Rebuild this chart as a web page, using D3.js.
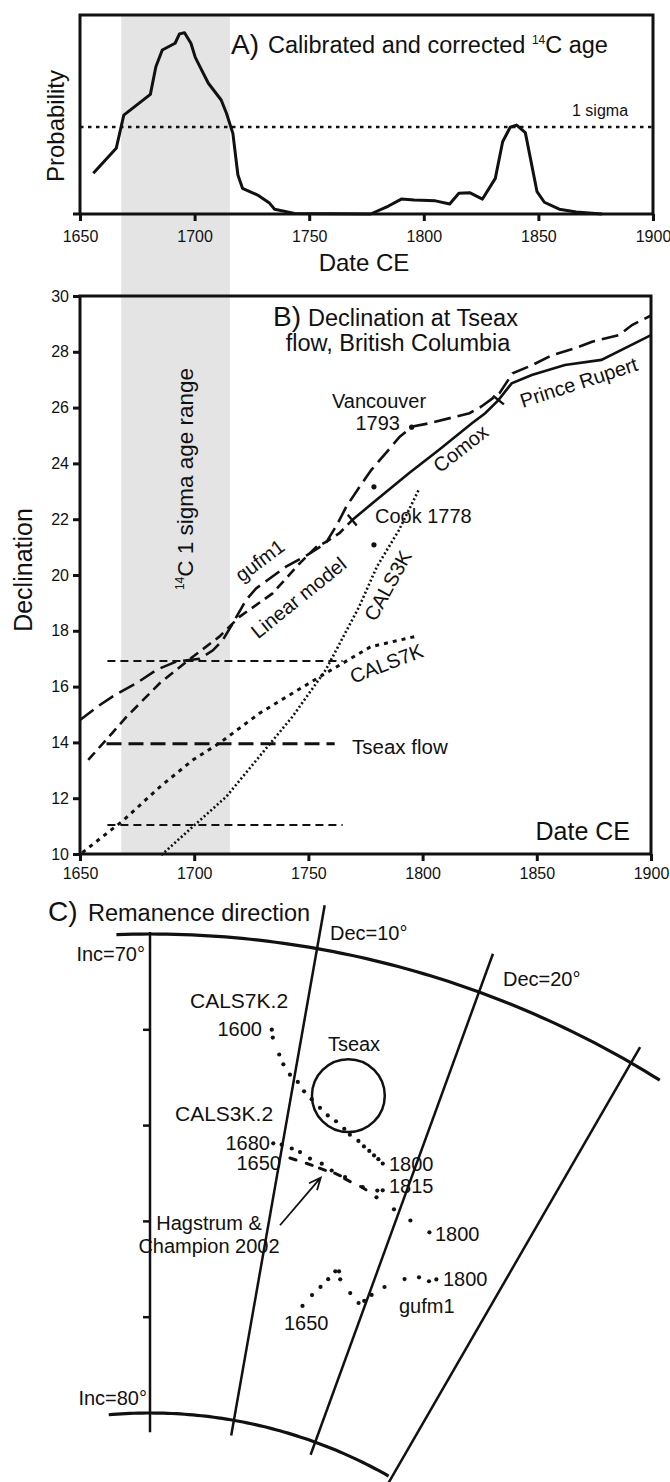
<!DOCTYPE html>
<html>
<head>
<meta charset="utf-8">
<script src="https://cdn.jsdelivr.net/npm/d3@7/dist/d3.min.js"></script>
<style>
  body { margin: 0; background: #fff; }
  svg { display: block; }
  text { font-family: "Liberation Sans", Arial, Helvetica, sans-serif; fill: #111; }
</style>
</head>
<body>
<svg id="fig" width="670" height="1482"></svg>
<script>
// ---------- data ----------

const yearTicks = [1650, 1700, 1750, 1800, 1850, 1900];
const decTicks = [10, 12, 14, 16, 18, 20, 22, 24, 26, 28, 30];

// 14C 1 sigma age range (grey band)
const sigmaRange = [1668, 1715.4];

// A) calibrated and corrected 14C age, relative probability
const probYear = [1655.8, 1665.8, 1669.1, 1680.7, 1683.1, 1685.9, 1691.5, 1693.4, 1695.6, 1698.4,
  1700.3, 1702.7, 1706.0, 1711.6, 1713.9, 1716.7, 1718.9, 1720.9, 1727.5, 1732.5,
  1734.9, 1743.6, 1776.8, 1784.6, 1790.2, 1795.8, 1805.1, 1811.3, 1815.3, 1820.0,
  1825.6, 1831.2, 1834.4, 1837.7, 1840.5, 1844.3, 1849.4, 1852.6, 1859.1, 1866.5, 1877.7];
const probValue = [0.205, 0.330, 0.497, 0.601, 0.740, 0.824, 0.858, 0.905, 0.911, 0.858,
  0.787, 0.732, 0.657, 0.573, 0.506, 0.405, 0.196, 0.129, 0.095, 0.057,
  0.024, 0.003, 0, 0.040, 0.075, 0.070, 0.066, 0.050, 0.104, 0.107,
  0.075, 0.179, 0.363, 0.436, 0.447, 0.409, 0.112, 0.059, 0.024, 0.010, 0];
const oneSigma = 0.437;

// B) declination at Tseax
const obsYear = [1769.2, 1778, 1794, 1807.1, 1821.6, 1827.4, 1833.2, 1839, 1847.8, 1862.3, 1878.3, 1900];
const obsDec = [21.97, 22.57, 23.65, 24.48, 25.44, 25.80, 26.27, 26.87, 27.17, 27.53, 27.71, 28.6];
const obsBreaks = [1769.2, 1833.2];

const gufmYear = [1650, 1658.7, 1665.3, 1674.7, 1683.5, 1692.2, 1702.4, 1708.2, 1712.5, 1716.9,
  1722.7, 1727.1, 1740.2, 1749.6, 1757.6, 1762.5, 1766.6, 1772.4, 1777.5, 1786.3,
  1790, 1795.7, 1803, 1820.5, 1825.6, 1833.6, 1839.4, 1848.2, 1856.7, 1867.2,
  1874.2, 1886, 1891.7, 1900];
const gufmDec = [14.8, 15.34, 15.7, 16.12, 16.6, 16.9, 17.0, 17.3, 17.67, 18.27,
  19.1, 19.52, 20.3, 20.72, 21.14, 21.8, 22.45, 23.16, 23.76, 24.6,
  24.96, 25.32, 25.44, 25.8, 26.03, 26.51, 27.23, 27.53, 27.88, 28.14,
  28.36, 28.6, 28.96, 29.3];

const linYear = [1653.6, 1670.4, 1684.9, 1699.4, 1711, 1719.8, 1734.3, 1746.2, 1753.4, 1758, 1763.6, 1769.2];
const linDec = [13.37, 14.92, 16.12, 17.07, 17.79, 18.5, 19.34, 20.42, 21.0, 21.2, 21.5, 21.97];

const cals7kYear = [1651, 1668.9, 1684.9, 1699.4, 1711, 1728.5, 1743, 1757.6, 1777.3, 1797];
const cals7kDec = [10.05, 11.2, 12.4, 13.37, 13.97, 15.04, 15.76, 16.48, 17.43, 17.8];

const cals3kYear = [1685.6, 1699.4, 1714, 1728.5, 1743, 1757.6, 1772.2, 1780, 1789.6, 1798.3];
const cals3kDec = [9.96, 10.98, 12.05, 13.49, 14.92, 16.6, 18.86, 20.3, 21.6, 23.05];

// Tseax flow mean and +/- range
const tseaxDec = 13.95;
const tseaxBand = [11.04, 16.92];
const tseaxSpan = [1661.6, 1761.5];
const bandSpan = [1662, 1765];

// historical measurements
const vancouver = [1795.2, 25.3];
const cookYear = [1778.7, 1778.7];
const cookDec = [23.16, 21.08];

// C) remanence direction (dec, inc)
const netDecs = [0, 10, 20, 30];
const netIncFrom = [69.96, 69.08, 69.15, 69.62];
const netIncTo = [80.4, 80.32, 80.28, 80.6];
const incTicks = [72, 74, 76, 78];

const c7Dec = [8.00, 8.14, 8.73, 9.11, 9.67, 10.29, 10.84, 11.47, 12.17, 12.83,
  13.50, 14.21, 14.71, 15.43, 15.93, 16.40, 16.83, 17.22, 17.63];
const c7Inc = [71.82, 71.98, 72.31, 72.50, 72.69, 72.81, 72.98, 73.11, 73.25, 73.37,
  73.45, 73.56, 73.65, 73.73, 73.81, 73.87, 73.93, 73.98, 74.04];

const c3Dec = [9.30, 9.94, 10.74, 11.40, 12.24, 13.20, 14.06, 15.18, 16.70, 17.86, 18.25];
const c3Inc = [74.16, 74.16, 74.20, 74.24, 74.33, 74.38, 74.47, 74.53, 74.63, 74.61, 74.57];

const hcDec = [10.98, 12.28, 13.35, 14.57, 15.42, 16.77, 17.96, 19.56, 21.08, 22.83];
const hcInc = [74.41, 74.45, 74.49, 74.52, 74.58, 74.65, 74.75, 74.87, 74.97, 75.05];

const gDec = [14.49, 15.09, 15.64, 16.11, 16.52, 16.84, 17.14, 18.37, 19.38, 19.80,
  20.24, 21.06, 22.42, 23.50, 24.41, 24.91];
const gInc = [77.36, 77.09, 76.88, 76.68, 76.48, 76.46, 76.61, 76.82, 76.96, 76.88,
  76.71, 76.46, 76.15, 76.00, 75.99, 75.89];

const tseaxDir = [13.92, 72.87];
const tseaxA95 = 0.76;
const arrowFrom = [10.97, 75.82];
const arrowTo = [13.37, 74.67];

// ---------- drawing ----------
const svg = d3.select('#fig');
const ink = '#111';

const xA = d3.scaleLinear().domain([1650, 1900]).range([80, 653]);
const yA = d3.scaleLinear().domain([0, 1]).range([214, 15]);
const xB = d3.scaleLinear().domain([1650, 1900]).range([80, 651]);
const yB = d3.scaleLinear().domain([10, 30]).range([854, 296]);

function txt(x, y, s, size, anchor, angle) {
  const t = svg.append('text')
    .attr('transform', 'translate(' + x + ',' + y + ')' + (angle ? ' rotate(' + angle + ')' : ''))
    .style('font-size', size + 'px')
    .attr('text-anchor', anchor || 'start')
    .text(s);
  return t;
}

// grey band through A and B
svg.append('rect')
  .attr('x', xA(sigmaRange[0]))
  .attr('y', yA.range()[1])
  .attr('width', xA(sigmaRange[1]) - xA(sigmaRange[0]))
  .attr('height', yB.range()[0] - yA.range()[1])
  .attr('fill', '#e4e4e4');

// ----- panel A -----
const axA = svg.append('g')
  .attr('transform', 'translate(0,' + yA(0) + ')')
  .call(d3.axisBottom(xA).tickValues(yearTicks).tickFormat(d3.format('d'))
    .tickSize(7).tickSizeOuter(0).tickPadding(10));
axA.select('.domain').remove();
axA.selectAll('line').attr('stroke', ink).attr('stroke-width', 3);
axA.selectAll('text').style('font-size', '16px');

svg.append('path')
  .attr('d', 'M' + xA(1650) + ',' + yA(0) + 'V' + yA.range()[1] + 'H' + xA(1900) + 'V' + yA(0)
    + 'M' + (xA(1650) - 7) + ',' + yA(0) + 'H' + xA(1900))
  .attr('fill', 'none').attr('stroke', ink).attr('stroke-width', 3);

svg.append('line')
  .attr('x1', xA(1650)).attr('x2', xA(1900))
  .attr('y1', yA(oneSigma)).attr('y2', yA(oneSigma))
  .attr('stroke', ink).attr('stroke-width', 2.5).attr('stroke-dasharray', '3.5,4.5');

svg.append('path')
  .datum(d3.zip(probYear, probValue))
  .attr('d', d3.line().x(d => xA(d[0])).y(d => yA(d[1])))
  .attr('fill', 'none').attr('stroke', ink).attr('stroke-width', 3).attr('stroke-linejoin', 'round');

txt(231, 54, 'A)', 28);
const tA = txt(268, 53, 'Calibrated and corrected ', 23.5);
tA.append('tspan').style('font-size', '12px').attr('dy', -9).text('14');
tA.append('tspan').attr('dy', 9).text('C age');
txt(572, 116, '1 sigma', 16);
txt(64, 126, 'Probability', 24, 'middle', -90);
txt(364, 271, 'Date CE', 24, 'middle');

// ----- panel B -----
svg.append('rect')
  .attr('x', xB(1650)).attr('y', yB(30))
  .attr('width', xB(1900) - xB(1650)).attr('height', yB(10) - yB(30))
  .attr('fill', 'none').attr('stroke', ink).attr('stroke-width', 3);

const axBx = svg.append('g')
  .attr('transform', 'translate(0,' + yB(10) + ')')
  .call(d3.axisBottom(xB).tickValues(yearTicks).tickFormat(d3.format('d'))
    .tickSize(7).tickSizeOuter(0).tickPadding(7));
const axBy = svg.append('g')
  .attr('transform', 'translate(' + xB(1650) + ',0)')
  .call(d3.axisLeft(yB).tickValues(decTicks).tickSize(7).tickSizeOuter(0).tickPadding(4));
[axBx, axBy].forEach(a => {
  a.select('.domain').remove();
  a.selectAll('line').attr('stroke', ink).attr('stroke-width', 3);
  a.selectAll('text').style('font-size', '16px');
});

const lineB = d3.line().x(d => xB(d[0])).y(d => yB(d[1]));
function curveB(xs, ys, w, dash) {
  svg.append('path')
    .datum(d3.zip(xs, ys))
    .attr('d', lineB)
    .attr('fill', 'none').attr('stroke', ink)
    .attr('stroke-width', w)
    .attr('stroke-dasharray', dash);
}

// Tseax flow and its range
curveB(tseaxSpan, [tseaxDec, tseaxDec], 3, '15,7');
curveB(bandSpan, [tseaxBand[0], tseaxBand[0]], 2, '8,5');
curveB(bandSpan, [tseaxBand[1], tseaxBand[1]], 2, '8,5');

curveB(cals3kYear, cals3kDec, 2.6, '2,2.4');
curveB(cals7kYear, cals7kDec, 3, '4,5');
curveB(linYear, linDec, 2.6, '10,6');
curveB(gufmYear, gufmDec, 2.6, '17,7');
curveB(obsYear, obsDec, 2.6, null);

// small perpendicular marks on the observatory line
function along(xs, ys, t) {
  const i = Math.min(xs.length - 1, Math.max(1, d3.bisectLeft(xs, t)));
  const k = (t - xs[i - 1]) / (xs[i] - xs[i - 1]);
  return [xs[i - 1] + k * (xs[i] - xs[i - 1]), ys[i - 1] + k * (ys[i] - ys[i - 1])];
}
obsBreaks.forEach(t => {
  const p = along(obsYear, obsDec, t), q = along(obsYear, obsDec, t + 3);
  const px = xB(p[0]), py = yB(p[1]);
  const a = Math.atan2(yB(q[1]) - py, xB(q[0]) - px);
  const nx = -Math.sin(a) * 7, ny = Math.cos(a) * 7;
  svg.append('line')
    .attr('x1', px - nx).attr('y1', py - ny).attr('x2', px + nx).attr('y2', py + ny)
    .attr('stroke', ink).attr('stroke-width', 2.4);
});

svg.append('circle').attr('cx', xB(vancouver[0])).attr('cy', yB(vancouver[1])).attr('r', 2.6).attr('fill', ink);
svg.selectAll('.cook').data(d3.zip(cookYear, cookDec)).enter().append('circle')
  .attr('cx', d => xB(d[0])).attr('cy', d => yB(d[1])).attr('r', 2.6).attr('fill', ink);

txt(273, 326, 'B)', 28);
txt(308, 326, 'Declination at Tseax', 23.5);
txt(398, 351, 'flow, British Columbia', 23.5, 'middle');
txt(332, 408, 'Vancouver', 20);
txt(400, 430, '1793', 20, 'end');
txt(375, 523, 'Cook 1778', 20);
txt(352, 754, 'Tseax flow', 20.5);
txt(630, 840, 'Date CE', 25, 'end');
txt(32, 570, 'Declination', 25, 'middle', -90);
const tS = txt(193, 479, '', 22.5, 'middle', -90);
tS.append('tspan').style('font-size', '12px').attr('dy', -9).text('14');
tS.append('tspan').attr('dy', 9).text('C 1 sigma age range');

[['gufm1', 264, 566, -37], ['Linear model', 303, 603, -39], ['CALS3K', 394, 589, -61],
 ['CALS7K', 389, 670, -21], ['Comox', 465, 454, -38], ['Prince Rupert', 581, 389, -18]]
  .forEach(l => txt(l[1], l[2], l[0], 20, 'middle', l[3]));

// ----- panel C -----
const cx = 150, cy = 1896;
const rInc = d3.scaleLinear().domain([70, 80]).range([962, 483]);
const rad = Math.PI / 180;
function proj(dec, inc) {
  const r = rInc(inc);
  return [cx + r * Math.sin(dec * rad), cy - r * Math.cos(dec * rad)];
}
const lineC = d3.line();

svg.append('path').attr('d', lineC(d3.range(-2, 32.01, 0.5).map(d => proj(d, 70))))
  .attr('fill', 'none').attr('stroke', ink).attr('stroke-width', 3.2);
svg.append('path').attr('d', lineC(d3.range(-4.9, 30.01, 0.5).map(d => proj(d, 80))))
  .attr('fill', 'none').attr('stroke', ink).attr('stroke-width', 3.2);

netDecs.forEach((d, i) => {
  svg.append('path').attr('d', lineC([proj(d, netIncFrom[i]), proj(d, netIncTo[i])]))
    .attr('stroke', ink).attr('stroke-width', 2.5);
});
incTicks.forEach(inc => {
  const p = proj(0, inc);
  svg.append('line').attr('x1', p[0] - 7).attr('x2', p[0]).attr('y1', p[1]).attr('y2', p[1])
    .attr('stroke', ink).attr('stroke-width', 2.5);
});

const tc = proj(tseaxDir[0], tseaxDir[1]);
svg.append('circle').attr('cx', tc[0]).attr('cy', tc[1])
  .attr('r', rInc(tseaxDir[1]) - rInc(tseaxDir[1] + tseaxA95))
  .attr('fill', 'none').attr('stroke', ink).attr('stroke-width', 2.5);

function dots(decs, incs) {
  svg.append('g').selectAll('circle').data(d3.zip(decs, incs)).enter().append('circle')
    .attr('cx', d => proj(d[0], d[1])[0]).attr('cy', d => proj(d[0], d[1])[1])
    .attr('r', 2.1).attr('fill', ink);
}
dots(c7Dec, c7Inc);
dots(c3Dec, c3Inc);
dots(gDec, gInc);

// Hagstrum & Champion series: short dashes along the path, dots at the end
const hcPts = d3.zip(hcDec, hcInc).map(d => proj(d[0], d[1]));
hcPts.forEach((p, i) => {
  if (i < 6) {
    const a = hcPts[Math.max(0, i - 1)], b = hcPts[Math.min(hcPts.length - 1, i + 1)];
    const ang = Math.atan2(b[1] - a[1], b[0] - a[0]);
    const ux = Math.cos(ang) * 3.2, uy = Math.sin(ang) * 3.2;
    svg.append('line').attr('x1', p[0] - ux).attr('y1', p[1] - uy).attr('x2', p[0] + ux).attr('y2', p[1] + uy)
      .attr('stroke', ink).attr('stroke-width', 3).attr('stroke-linecap', 'round');
  } else {
    svg.append('circle').attr('cx', p[0]).attr('cy', p[1]).attr('r', 2.1).attr('fill', ink);
  }
});

// arrow
const a0 = proj(arrowFrom[0], arrowFrom[1]), a1 = proj(arrowTo[0], arrowTo[1]);
const aa = Math.atan2(a1[1] - a0[1], a1[0] - a0[0]);
svg.append('path')
  .attr('d', lineC([a0, a1]) + lineC([
    [a1[0] - 13 * Math.cos(aa - 0.42), a1[1] - 13 * Math.sin(aa - 0.42)], a1,
    [a1[0] - 13 * Math.cos(aa + 0.42), a1[1] - 13 * Math.sin(aa + 0.42)]]))
  .attr('fill', 'none').attr('stroke', ink).attr('stroke-width', 1.8);

txt(48, 921, 'C)', 28);
txt(88, 921, 'Remanence direction', 23.5);
txt(145, 961, 'Inc=70°', 20, 'end');
txt(147, 1405, 'Inc=80°', 20, 'end');
txt(330, 940, 'Dec=10°', 20);
txt(503, 986, 'Dec=20°', 20);
txt(190, 1008, 'CALS7K.2', 21);
txt(262, 1036, '1600', 20, 'end');
txt(354, 1051, 'Tseax', 20, 'middle');
txt(175, 1121, 'CALS3K.2', 21);
txt(270, 1150, '1680', 20, 'end');
txt(281, 1170, '1650', 20, 'end');
txt(389, 1171, '1800', 20);
txt(389, 1193, '1815', 20);
txt(435, 1241, '1800', 20);
txt(443, 1286, '1800', 20);
txt(399, 1313, 'gufm1', 20);
txt(284, 1330, '1650', 20);
txt(209, 1230, 'Hagstrum &', 20, 'middle');
txt(209, 1253, 'Champion 2002', 20, 'middle');
</script>
</body>
</html>
